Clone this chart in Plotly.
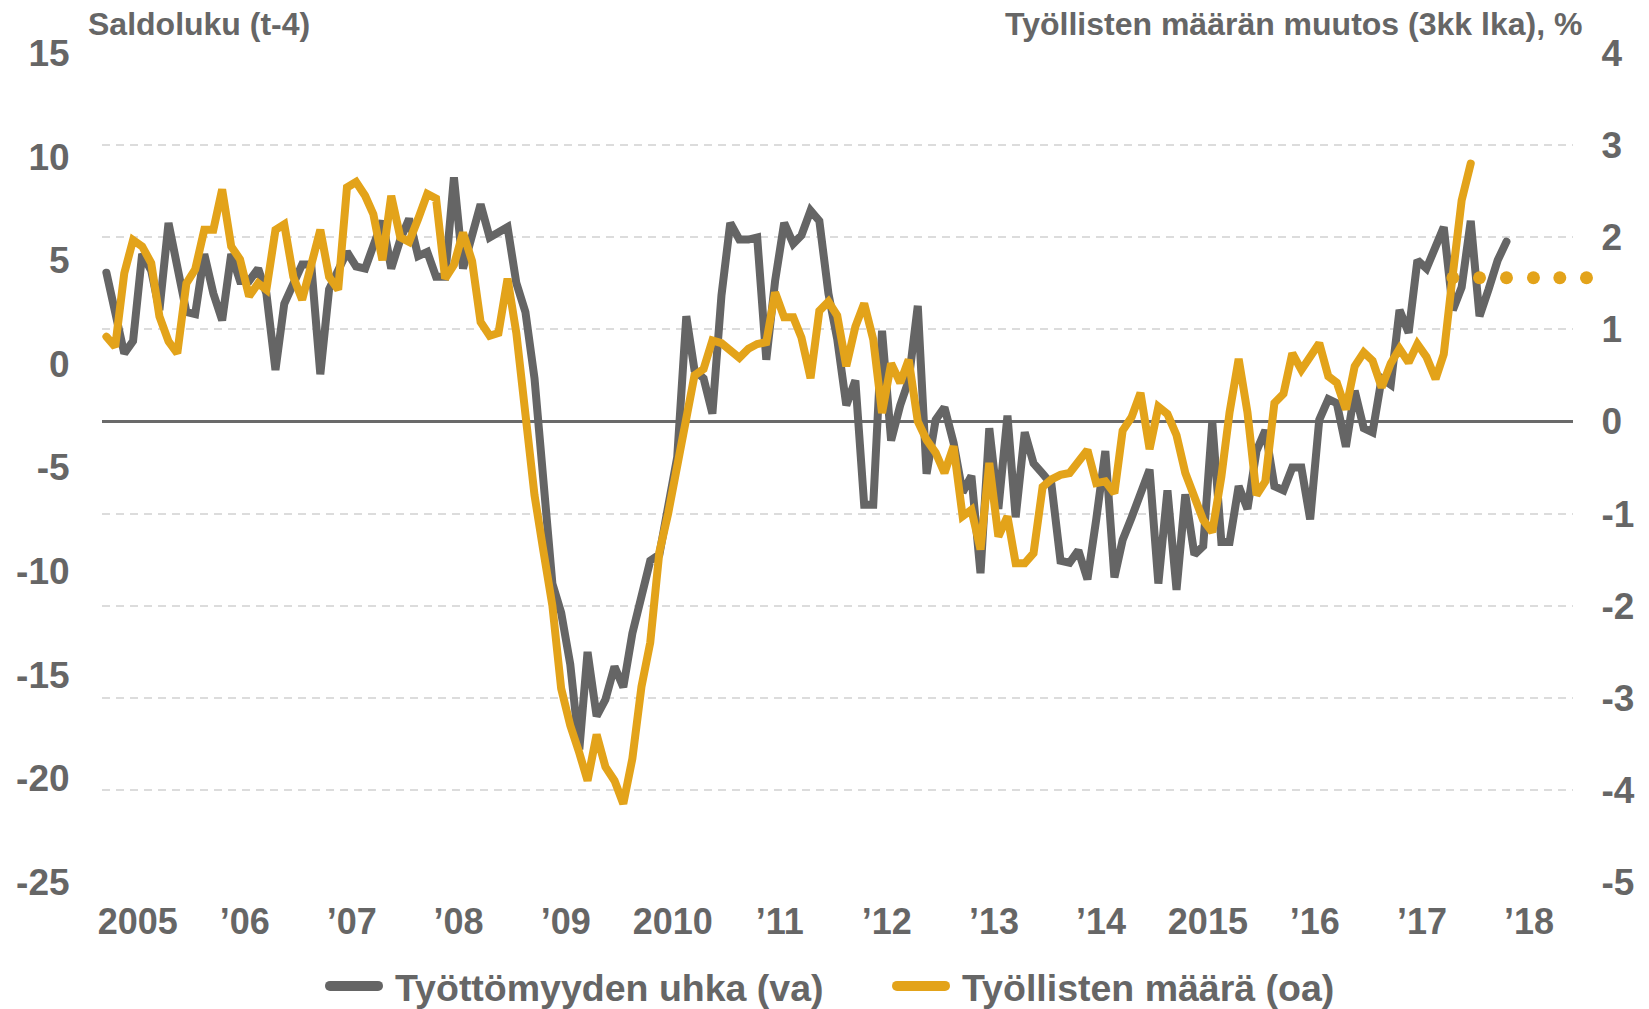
import pandas as pd
import plotly.graph_objects as go

# ---------------- data ----------------
# Monthly points starting Sep 2004 (gray series is shifted 4 months forward, "t-4")
start_month = "2004-09-01"
n_axis_months = 165  # category slots on the x axis (Sep 2004 .. May 2018)

tyottomyyden_uhka = [  # Saldoluku, left axis
    4.4, 2.5, 0.5, 1.1, 5.3, 4.5, 2.6, 6.8, 4.8, 2.5, 2.4, 5.3, 3.4, 2.1, 5.3, 4.0,
    4.0, 4.6, 3.4, -0.3, 2.9, 3.9, 4.8, 4.8, -0.5, 3.6, 4.5, 5.4, 4.7, 4.6, 5.7, 6.9,
    4.6, 6.0, 7.0, 5.2, 5.4, 4.2, 4.2, 9.0, 4.6, 6.2, 7.7, 6.1, 6.4, 6.6, 3.9, 2.5,
    -0.7, -5.5, -10.6, -12.0, -14.5, -18.6, -13.9, -17.0, -16.2, -14.6, -15.6, -13.0,
    -11.3, -9.5, -9.2, -7.0, -4.5, 2.3, -0.3, -0.7, -2.4, 3.3, 6.8, 6.0, 6.0, 6.1,
    0.2, 4.0, 6.8, 5.8, 6.2, 7.4, 6.9, 3.4, 1.2, -2.0, -0.8, -6.8, -6.8, 1.6, -3.7,
    -2.0, -0.8, 2.8, -5.3, -2.7, -2.1, -3.8, -6.2, -5.4, -10.1, -3.1, -7.0, -2.5,
    -7.4, -3.3, -4.8, -5.3, -5.8, -9.5, -9.6, -9.0, -10.4, -7.5, -4.2, -10.3, -8.5,
    -7.4, -6.2, -5.1, -10.6, -6.1, -10.9, -6.3, -9.2, -8.8, -2.8, -8.6, -8.6, -5.9,
    -7.0, -4.2, -3.2, -5.9, -6.1, -5.0, -5.0, -7.5, -2.7, -1.7, -1.9, -4.0, -1.3,
    -3.1, -3.3, -0.7, -1.0, 2.6, 1.5, 5.0, 4.6, 5.7, 6.6, 2.6, 3.7, 6.9, 2.3, 3.6,
    5.0, 5.9,
]

tyollisten_maara = [  # % change (3-month avg), right axis
    0.92, 0.81, 1.61, 1.97, 1.90, 1.72, 1.14, 0.87, 0.74, 1.50, 1.65, 2.08, 2.08,
    2.52, 1.90, 1.76, 1.36, 1.50, 1.43, 2.08, 2.14, 1.57, 1.32, 1.72, 2.08, 1.57,
    1.43, 2.54, 2.60, 2.45, 2.25, 1.75, 2.45, 2.00, 1.95, 2.20, 2.47, 2.42, 1.55,
    1.70, 2.05, 1.74, 1.08, 0.93, 0.96, 1.55, 0.96, 0.08, -0.80, -1.40, -2.00,
    -2.90, -3.30, -3.60, -3.90, -3.40, -3.75, -3.90, -4.15, -3.66, -2.88, -2.40,
    -1.42, -1.00, -0.45, 0.08, 0.50, 0.57, 0.88, 0.85, 0.76, 0.69, 0.79, 0.84, 0.86,
    1.40, 1.13, 1.13, 0.91, 0.47, 1.20, 1.30, 1.15, 0.60, 1.03, 1.28, 0.89, 0.09,
    0.63, 0.42, 0.67, 0.00, -0.20, -0.34, -0.56, -0.27, -1.03, -0.96, -1.39, -0.45,
    -1.25, -1.03, -1.54, -1.54, -1.43, -0.71, -0.63, -0.58, -0.56, -0.45, -0.31,
    -0.67, -0.65, -0.78, -0.10, 0.05, 0.31, -0.30, 0.16, 0.08, -0.15, -0.56, -0.80,
    -1.07, -1.20, -0.60, 0.10, 0.68, 0.10, -0.80, -0.65, 0.20, 0.30, 0.74, 0.56,
    0.70, 0.85, 0.49, 0.42, 0.13, 0.60, 0.75, 0.66, 0.37, 0.63, 0.79, 0.64, 0.84,
    0.70, 0.46, 0.73, 1.60, 2.40, 2.80,
]

# dotted level (right axis), quarterly dots
taso_start = "2017-04-01"
taso_values = [1.56, 1.56, 1.56, 1.56, 1.56, 1.56]

left_tickvals = [15, 10, 5, 0, -5, -10, -15, -20, -25]
left_ticktext = ["15", "10", "5", "0", "-5", "-10", "-15", "-20", "-25"]
right_tickvals = [4, 3, 2, 1, 0, -1, -2, -3, -4, -5]
right_ticktext = ["4", "3", "2", "1", "0", "-1", "-2", "-3", "-4", "-5"]
year_ticktext = ["2005", "\u201906", "\u201907", "\u201908", "\u201909", "2010", "\u201911",
                 "\u201912", "\u201913", "\u201914", "2015", "\u201916", "\u201917", "\u201918"]

series_names = ["Työttömyyden uhka (va)", "Työllisten määrä (oa)"]
left_title = "Saldoluku (t-4)"
right_title = "Työllisten määrän muutos (3kk lka), %"

# ---------------- derived ----------------
months = pd.date_range(start_month, periods=n_axis_months, freq="MS")
x_gray = months[: len(tyottomyyden_uhka)]
x_orange = months[: len(tyollisten_maara)]
x_taso = pd.date_range(taso_start, periods=len(taso_values), freq="3MS")
half_month = pd.Timedelta(days=15)
# year labels sit on the boundary between December and January slots
year_ticks = pd.date_range("2005-01-01", periods=len(year_ticktext), freq="YS") - half_month
x_range = [months[0] - half_month, months[-1] + half_month]

GRAY = "#656565"
ORANGE = "#E3A31A"
TEXT = "#666666"
FONT = "Liberation Sans, Arial, Helvetica, sans-serif"

W, H = 1649, 1009
PLOT_L, PLOT_R, PLOT_T, PLOT_B = 102, 1573, 53, 882   # main plot area (px)
OUTER_R = 1600                                      # room for dots past the axis end
ML, MR, MT, MB = PLOT_L, W - OUTER_R, PLOT_T, H - PLOT_B
PAPER_W = OUTER_R - PLOT_L
PH = PLOT_B - PLOT_T
main_frac = (PLOT_R - PLOT_L) / PAPER_W

# secondary x axis with the same scale, spanning a little further right
span = x_range[1] - x_range[0]
x2_range = [x_range[0], x_range[0] + span / main_frac]

def px_x(px):
    return (px - PLOT_L) / PAPER_W

def px_y(py):
    return (PLOT_B - py) / PH

fig = go.Figure()
fig.add_trace(go.Scatter(
    x=x_gray, y=tyottomyyden_uhka, name=series_names[0], mode="lines",
    line=dict(color=GRAY, width=8), xaxis="x", yaxis="y",
))
fig.add_trace(go.Scatter(
    x=x_orange, y=tyollisten_maara, name=series_names[1], mode="lines",
    line=dict(color=ORANGE, width=8), xaxis="x", yaxis="y2",
))
fig.add_trace(go.Scatter(
    x=x_taso, y=taso_values, mode="markers", showlegend=False,
    marker=dict(color=ORANGE, size=13), xaxis="x2", yaxis="y3", cliponaxis=False,
))

tickfont = dict(family=FONT, size=37, color=TEXT, weight="bold")

fig.update_layout(
    width=W, height=H,
    margin=dict(l=ML, r=MR, t=MT, b=MB, autoexpand=False),
    paper_bgcolor="white", plot_bgcolor="rgba(0,0,0,0)",
    showlegend=True,
    legend=dict(
        orientation="h", x=px_x(355), xanchor="left", y=px_y(986), yanchor="middle",
        font=dict(family=FONT, size=37.5, color=TEXT, weight="bold"),
        bgcolor="rgba(0,0,0,0)", entrywidth=522, entrywidthmode="pixels",
    ),
    xaxis=dict(
        type="date", domain=[0, main_frac], range=x_range,
        tickvals=year_ticks, ticktext=year_ticktext,
        showgrid=False, zeroline=False, showline=False,
        ticks="outside", ticklen=8, tickcolor="rgba(0,0,0,0)",
        tickfont=dict(family=FONT, size=36, color=TEXT, weight="bold"),
    ),
    xaxis2=dict(
        type="date", domain=[0, 1], range=x2_range, anchor="y3",
        visible=False, showgrid=False, zeroline=False,
    ),
    yaxis=dict(
        range=[-25, 15], tickvals=left_tickvals, ticktext=left_ticktext,
        showgrid=False, zeroline=False, showline=False,
        ticks="outside", ticklen=24, tickcolor="rgba(0,0,0,0)", tickfont=tickfont,
    ),
    yaxis2=dict(
        range=[-5, 4], tickvals=right_tickvals, ticktext=right_ticktext,
        overlaying="y", side="right", anchor="x",
        showgrid=True, gridcolor="#DCDCDC", gridwidth=2, griddash="8px,6px",
        zeroline=True, zerolinecolor="#6A6A6A", zerolinewidth=3, showline=False,
        ticks="outside", ticklen=20, tickcolor="rgba(0,0,0,0)", tickfont=tickfont,
    ),
    yaxis3=dict(
        range=[-5, 4], domain=[0, 1], anchor="x2", visible=False,
        showgrid=False, zeroline=False,
    ),
    annotations=[
        dict(text=left_title, xref="paper", yref="paper",
             x=px_x(86), y=px_y(24), xanchor="left", yanchor="middle",
             showarrow=False, font=dict(family=FONT, size=32, color=TEXT, weight="bold")),
        dict(text=right_title, xref="paper", yref="paper",
             x=px_x(1584), y=px_y(24), xanchor="right", yanchor="middle",
             showarrow=False, font=dict(family=FONT, size=32, color=TEXT, weight="bold")),
    ],
)

post_js = """
document.body.style.margin = '0';
var gd = document.getElementById('{plot_id}');
gd.querySelectorAll('.scatterlayer .js-line').forEach(function (p) {
  p.style.strokeLinecap = 'round';
});
gd.querySelectorAll('.legend .scrollbox').forEach(function (g) {
  g.removeAttribute('clip-path');
});
gd.querySelectorAll('.legendlines path').forEach(function (p) {
  p.setAttribute('d', 'M-25,0h48');
  p.style.strokeWidth = '10px';
  p.style.strokeLinecap = 'round';
});
"""

fig.write_html("out.html", config={"displayModeBar": False}, post_script=post_js)
